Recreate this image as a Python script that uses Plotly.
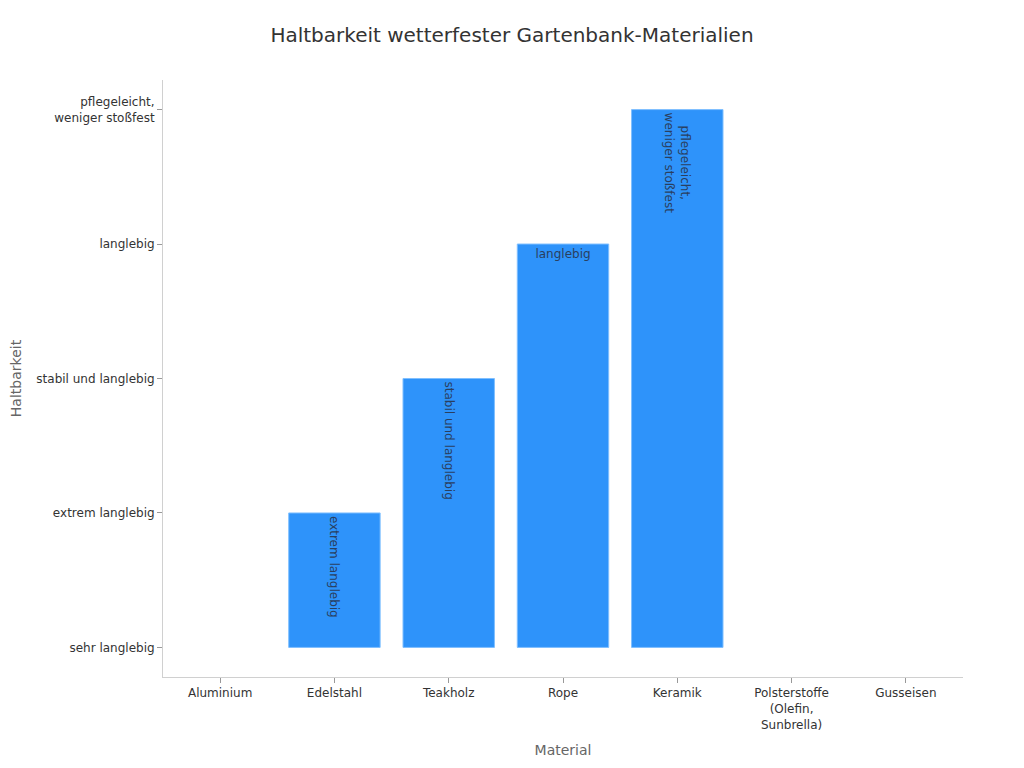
import plotly.graph_objects as go

materials = ["Aluminium", "Edelstahl", "Teakholz", "Rope", "Keramik",
             "Polsterstoffe<br>(Olefin,<br>Sunbrella)", "Gusseisen"]
durability = [None, "extrem langlebig", "stabil und langlebig", "langlebig",
              "pflegeleicht,<br>weniger stoßfest", None, None]
y_categories = ["sehr langlebig", "extrem langlebig", "stabil und langlebig", "langlebig",
                "pflegeleicht,<br>weniger stoßfest"]

fig = go.Figure(go.Bar(
    x=materials,
    y=durability,
    text=durability,
    textposition="inside",
    insidetextanchor="end",
    textfont=dict(color="#2a3f5f", size=12, family="DejaVu Sans"),
    marker=dict(color="#2E93FA", line=dict(color="#7fbfff", width=1)),
))

fig.update_layout(
    width=1024, height=768,
    title=dict(text="Haltbarkeit wetterfester Gartenbank-Materialien", x=0.4922, xanchor="center",
               y=0.9745, font=dict(size=20, color="#333333", family="DejaVu Sans")),
    font=dict(family="DejaVu Sans", size=12, color="#333333"),
    plot_bgcolor="white", paper_bgcolor="white",
    margin=dict(l=155, r=69, t=72, b=99),
    bargap=0.2,
    showlegend=False,
    xaxis=dict(title=dict(text="Material", font=dict(size=14, color="#666666"), standoff=14),
               showline=True, linecolor="#d0d0d0", ticks="outside", tickcolor="#999999",
               ticklen=5, showgrid=False, tickfont=dict(size=12, color="#333333")),
    yaxis=dict(title=dict(text="Haltbarkeit", font=dict(size=14, color="#666666")),
               automargin=False,
               type="category", categoryorder="array", categoryarray=y_categories,
               range=[-0.22, 4.22],
               showline=True, linecolor="#d0d0d0", ticks="outside", tickcolor="#999999",
               ticklen=5, showgrid=False, tickfont=dict(size=12, color="#333333")),
)

fig.write_html("out.html")
